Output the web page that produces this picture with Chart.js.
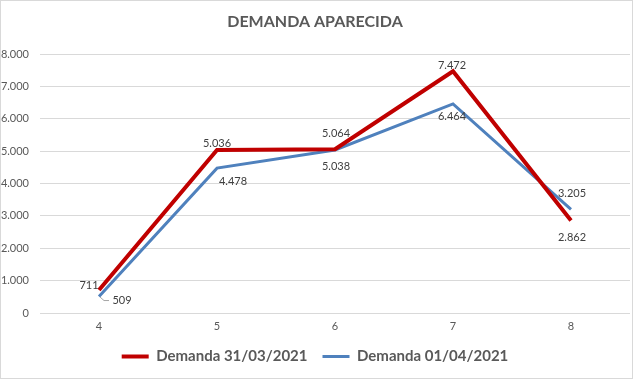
<!DOCTYPE html>
<html>
  <head>
    <script src="https://cdn.jsdelivr.net/npm/chart.js"></script>
    <title>Demanda aparecida</title>
    <style>
      body {
        margin: 0;
        background: #ffffff;
      }
      #wrap {
        width: 633px;
        height: 379px;
      }
    </style>
  </head>
  <body>
    <div id="wrap">
      <canvas id="grafico" width="633" height="379"></canvas>
    </div>
    <script>
      // datos
      const categorias = ["4", "5", "6", "7", "8"];
      const demanda3103 = [711, 5036, 5064, 7472, 2862];
      const demanda0104 = [509, 4478, 5038, 6464, 3205];
      const ticksY = [0, 1000, 2000, 3000, 4000, 5000, 6000, 7000, 8000];

      const ROJO = "#C00000";
      const AZUL = "#4F81BD";
      const GRIS = "#595959";

      // desplazamiento de cada etiqueta respecto a su punto
      const desplRojo = [[-10, -5], [0, -7], [1, -16], [-1, -6], [1, 17]];
      const desplAzul = [[23, 4], [16, 13], [1, 16], [-1, 13], [1, -16]];

      function formato(v) {
        return v.toLocaleString("de-DE");
      }

      const marco = {
        id: "marco",
        beforeDraw(chart) {
          const c = chart.ctx;
          c.save();
          c.fillStyle = "#ffffff";
          c.fillRect(0, 0, chart.width, chart.height);
          c.strokeStyle = "#d9d9d9";
          c.lineWidth = 1;
          c.strokeRect(0.5, 0.5, chart.width - 1, chart.height - 1);
          c.restore();
        },
      };

      const etiquetas = {
        id: "etiquetas",
        afterDatasetsDraw(chart) {
          const c = chart.ctx;
          c.save();
          c.font = "11px Lato";
          c.fillStyle = "#404040";
          c.textAlign = "center";
          c.textBaseline = "middle";
          [desplRojo, desplAzul].forEach((despl, d) => {
            const meta = chart.getDatasetMeta(d);
            const valores = chart.data.datasets[d].data;
            meta.data.forEach((p, i) => {
              c.fillText(formato(valores[i]), p.x + despl[i][0], p.y + despl[i][1]);
            });
          });
          // linea guia del 509
          const p = chart.getDatasetMeta(1).data[0];
          c.strokeStyle = "#a6a6a6";
          c.lineWidth = 1;
          c.beginPath();
          c.moveTo(p.x + 1, p.y + 0.5);
          c.lineTo(p.x + 5, p.y + 4);
          c.lineTo(p.x + 10, p.y + 4);
          c.stroke();
          c.restore();
        },
      };

      new Chart(document.getElementById("grafico"), {
        type: "line",
        data: {
          labels: categorias,
          datasets: [
            {
              label: "Demanda 31/03/2021",
              data: demanda3103,
              borderColor: ROJO,
              backgroundColor: ROJO,
              borderWidth: 4,
              pointRadius: 0,
              tension: 0,
            },
            {
              label: "Demanda 01/04/2021",
              data: demanda0104,
              borderColor: AZUL,
              backgroundColor: AZUL,
              borderWidth: 3,
              pointRadius: 0,
              tension: 0,
            },
          ],
        },
        options: {
          responsive: false,
          animation: false,
          layout: { padding: { left: 0, right: 3, top: 0, bottom: 5 } },
          plugins: {
            tooltip: { enabled: false },
            title: {
              display: true,
              text: "DEMANDA APARECIDA",
              color: GRIS,
              font: { family: "Lato", size: 16, weight: "bold" },
              padding: { top: 12, bottom: 23 },
            },
            legend: {
              position: "bottom",
              labels: {
                color: GRIS,
                font: { family: "Lato", size: 15, weight: "bold" },
                usePointStyle: true,
                pointStyle: "line",
                pointStyleWidth: 27,
                padding: 15,
              },
            },
          },
          scales: {
            x: {
              offset: true,
              afterFit(s) {
                s.height = 21;
              },
              grid: { display: false, drawTicks: false },
              border: { display: false },
              ticks: {
                color: GRIS,
                font: { family: "Lato", size: 11 },
                padding: 7,
              },
            },
            y: {
              min: 0,
              max: 8000,
              afterFit(s) {
                s.width = 40;
              },
              afterBuildTicks(s) {
                s.ticks = ticksY.map((v) => ({ value: v }));
              },
              grid: { color: "#d9d9d9", drawTicks: false },
              border: { display: false },
              ticks: {
                color: GRIS,
                font: { family: "Lato", size: 11 },
                padding: 11,
                callback: (v) => formato(v),
              },
            },
          },
        },
        plugins: [marco, etiquetas],
      });
    </script>
  </body>
</html>
